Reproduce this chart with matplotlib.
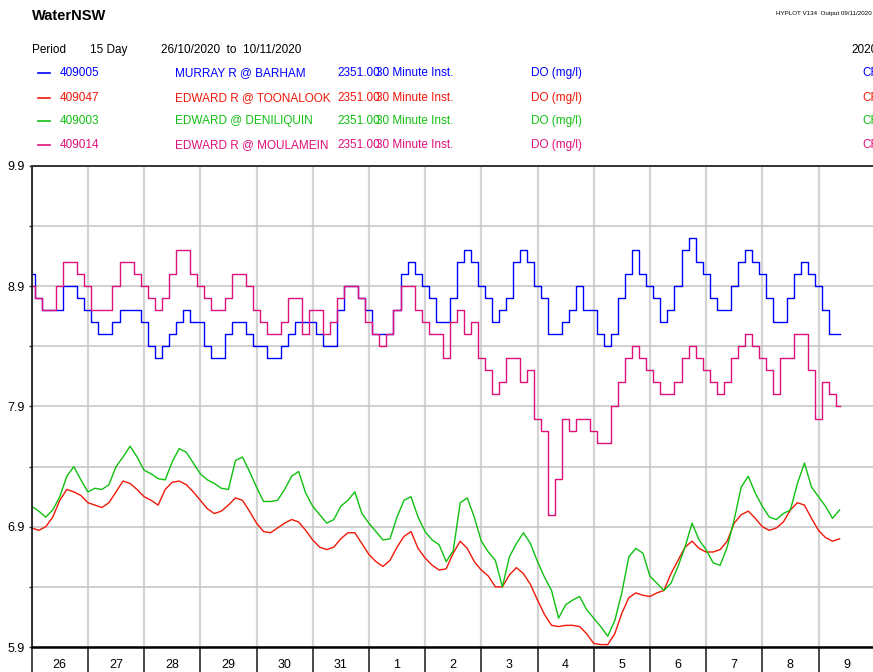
import numpy as np
import matplotlib
matplotlib.use('Agg')
import matplotlib.pyplot as plt
from matplotlib.lines import Line2D

plt.rcParams['font.family'] = ['Liberation Sans', 'DejaVu Sans']

# readings every 3 hours from 26/10/2020 00:00 (DO, mg/l)
step_days = 0.125
day_labels = ['26', '27', '28', '29', '30', '31', '1', '2', '3', '4', '5', '6', '7', '8', '9']

blue_409005 = [
    9.0, 8.8, 8.7, 8.7, 8.7, 8.9, 8.9, 8.8, 8.7, 8.6,
    8.5, 8.5, 8.6, 8.7, 8.7, 8.7, 8.6, 8.4, 8.3, 8.4,
    8.5, 8.6, 8.7, 8.6, 8.6, 8.4, 8.3, 8.3, 8.5, 8.6,
    8.6, 8.5, 8.4, 8.4, 8.3, 8.3, 8.4, 8.5, 8.6, 8.6,
    8.6, 8.5, 8.4, 8.4, 8.7, 8.9, 8.9, 8.8, 8.7, 8.5,
    8.5, 8.5, 8.7, 9.0, 9.1, 9.0, 8.9, 8.8, 8.6, 8.6,
    8.8, 9.1, 9.2, 9.1, 8.9, 8.8, 8.6, 8.7, 8.8, 9.1,
    9.2, 9.1, 8.9, 8.8, 8.5, 8.5, 8.6, 8.7, 8.9, 8.7,
    8.7, 8.5, 8.4, 8.5, 8.8, 9.0, 9.2, 9.0, 8.9, 8.8,
    8.6, 8.7, 8.9, 9.2, 9.3, 9.1, 9.0, 8.8, 8.7, 8.7,
    8.9, 9.1, 9.2, 9.1, 9.0, 8.8, 8.6, 8.6, 8.8, 9.0,
    9.1, 9.0, 8.9, 8.7, 8.5, 8.5,
]
red_409047 = [
    6.89, 6.87, 6.90, 6.98, 7.12, 7.21, 7.19, 7.16, 7.10, 7.08,
    7.06, 7.10, 7.19, 7.28, 7.26, 7.21, 7.15, 7.12, 7.08, 7.21,
    7.27, 7.28, 7.25, 7.19, 7.12, 7.05, 7.01, 7.03, 7.08, 7.14,
    7.12, 7.03, 6.93, 6.86, 6.85, 6.89, 6.93, 6.96, 6.94, 6.87,
    6.79, 6.73, 6.71, 6.73, 6.80, 6.85, 6.85, 6.76, 6.67, 6.61,
    6.57, 6.62, 6.73, 6.82, 6.86, 6.72, 6.64, 6.58, 6.54, 6.55,
    6.68, 6.78, 6.72, 6.61, 6.54, 6.49, 6.40, 6.40, 6.50, 6.56,
    6.51, 6.42, 6.29, 6.17, 6.08, 6.07, 6.08, 6.08, 6.07, 6.01,
    5.93, 5.92, 5.92, 6.01, 6.18, 6.31, 6.35, 6.33, 6.32, 6.35,
    6.37, 6.51, 6.62, 6.73, 6.78, 6.72, 6.69, 6.69, 6.71, 6.78,
    6.93, 7.00, 7.03, 6.97, 6.90, 6.87, 6.89, 6.94, 7.04, 7.10,
    7.08, 6.97, 6.87, 6.81, 6.78, 6.80,
]
green_409003 = [
    7.07, 7.03, 6.98, 7.04, 7.15, 7.32, 7.40, 7.29, 7.19, 7.22,
    7.21, 7.25, 7.40, 7.48, 7.57, 7.48, 7.37, 7.34, 7.30, 7.29,
    7.44, 7.55, 7.52, 7.43, 7.34, 7.29, 7.26, 7.22, 7.21, 7.45,
    7.48, 7.36, 7.23, 7.11, 7.11, 7.12, 7.21, 7.32, 7.36, 7.18,
    7.07, 7.00, 6.93, 6.96, 7.07, 7.12, 7.19, 7.01, 6.93, 6.86,
    6.79, 6.80, 6.98, 7.12, 7.15, 6.98, 6.86, 6.79, 6.75, 6.61,
    6.70, 7.10, 7.14, 6.98, 6.78, 6.69, 6.62, 6.40, 6.65, 6.76,
    6.85, 6.76, 6.61, 6.48, 6.37, 6.14, 6.25, 6.29, 6.32, 6.21,
    6.14, 6.07, 5.99, 6.12, 6.35, 6.65, 6.72, 6.68, 6.49, 6.43,
    6.37, 6.43, 6.57, 6.73, 6.93, 6.79, 6.71, 6.60, 6.58, 6.73,
    6.96, 7.23, 7.32, 7.18, 7.07, 6.98, 6.96, 7.01, 7.04, 7.26,
    7.43, 7.23, 7.15, 7.07, 6.97, 7.04,
]
pink_409014 = [
    8.9, 8.8, 8.7, 8.7, 8.9, 9.1, 9.1, 9.0, 8.9, 8.7,
    8.7, 8.7, 8.9, 9.1, 9.1, 9.0, 8.9, 8.8, 8.7, 8.8,
    9.0, 9.2, 9.2, 9.0, 8.9, 8.8, 8.7, 8.7, 8.8, 9.0,
    9.0, 8.9, 8.7, 8.6, 8.5, 8.5, 8.6, 8.8, 8.8, 8.5,
    8.7, 8.7, 8.5, 8.6, 8.8, 8.9, 8.9, 8.8, 8.6, 8.5,
    8.4, 8.5, 8.7, 8.9, 8.9, 8.7, 8.6, 8.5, 8.5, 8.3,
    8.6, 8.7, 8.5, 8.6, 8.3, 8.2, 8.0, 8.1, 8.3, 8.3,
    8.1, 8.2, 7.8, 7.7, 7.0, 7.3, 7.8, 7.7, 7.8, 7.8,
    7.7, 7.6, 7.6, 7.9, 8.1, 8.3, 8.4, 8.3, 8.2, 8.1,
    8.0, 8.0, 8.1, 8.3, 8.4, 8.3, 8.2, 8.1, 8.0, 8.1,
    8.3, 8.4, 8.5, 8.4, 8.3, 8.2, 8.0, 8.3, 8.3, 8.5,
    8.5, 8.2, 7.8, 8.1, 8.0, 7.9,
]

sites = [
    ('409005', 'MURRAY R @ BARHAM', '#0000ff', blue_409005, 'steps-mid'),
    ('409047', 'EDWARD R @ TOONALOOK', '#f01808', red_409047, 'default'),
    ('409003', 'EDWARD @ DENILIQUIN', '#10c010', green_409003, 'default'),
    ('409014', 'EDWARD R @ MOULAMEIN', '#e0107a', pink_409014, 'steps-mid'),
]

W, H = 873, 672
fig = plt.figure(figsize=(W / 100, H / 100), dpi=100)

def px(x, y):
    return x / W, 1 - y / H

# plot area: 26/10 00:00 at x=31.7, one day = 56.2 px
ax = fig.add_axes([31.7 / W, (H - 647) / H, 15 * 56.2 / W, (647 - 166) / H])
for code, name, col, vals, ds in sites:
    t = np.arange(len(vals)) * step_days
    ax.plot(t, vals, color=col, lw=1.0, drawstyle=ds)

ax.set_xlim(0, 15)
ax.set_ylim(5.9, 9.9)
ax.set_yticks([5.9, 6.9, 7.9, 8.9, 9.9])
ax.set_yticks([6.4, 7.4, 8.4, 9.4], minor=True)
ax.set_xticks(np.arange(0, 16))
ax.set_xticklabels([])
ax.set_xticks(np.arange(15) + 0.5, minor=True)
ax.set_xticklabels(day_labels, minor=True)

ax.grid(axis='y', which='both', color='#c4c4c4', lw=1.1)
ax.grid(axis='x', which='major', color='#d4d4d4', lw=1.6)
ax.tick_params(axis='y', which='both', length=2, width=1, color='#333333',
               labelsize=9, pad=3)
ax.tick_params(axis='x', which='major', direction='out', length=19, width=1.3,
               color='#3a3a3a')
ax.tick_params(axis='x', which='minor', length=0, pad=8.5, labelsize=9)
ax.set_axisbelow(True)
ax.spines['right'].set_visible(False)
ax.spines['left'].set_color('#111111')
ax.spines['left'].set_linewidth(1.2)
ax.spines['top'].set_color('#333333')
ax.spines['top'].set_linewidth(1.4)
ax.spines['bottom'].set_color('#000000')
ax.spines['bottom'].set_linewidth(1.8)

# header
fig.text(*px(32, 16), 'WaterNSW', fontsize=10.5, fontweight='bold', va='center')
fig.text(*px(776, 13), 'HYPLOT V134  Output 09/11/2020', fontsize=4.5, va='center')
fig.text(*px(32, 50), 'Period', fontsize=8.5, va='center')
fig.text(*px(90, 50), '15 Day', fontsize=8.5, va='center')
fig.text(*px(161, 50), '26/10/2020  to  10/11/2020', fontsize=8.5, va='center')
fig.text(*px(851, 50), '2020', fontsize=8.5, va='center')

row_y = [73, 98, 121, 145]
for (code, name, col, vals, ds), yy in zip(sites, row_y):
    x0, y0 = px(38, yy)
    x1, _ = px(50, yy)
    fig.add_artist(Line2D([x0, x1], [y0, y0], color=col, lw=1.2))
    fig.text(*px(60, yy), code, color=col, fontsize=8.5, va='center')
    fig.text(*px(175, yy), name, color=col, fontsize=8.5, va='center')
    fig.text(*px(337, yy), '2351.00', color=col, fontsize=8.5, va='center')
    fig.text(*px(376, yy), '30 Minute Inst.', color=col, fontsize=8.5, va='center')
    fig.text(*px(531, yy), 'DO (mg/l)', color=col, fontsize=8.5, va='center')
    fig.text(*px(862, yy), 'CR', color=col, fontsize=8.5, va='center')

fig.savefig('out.png', dpi=100)
